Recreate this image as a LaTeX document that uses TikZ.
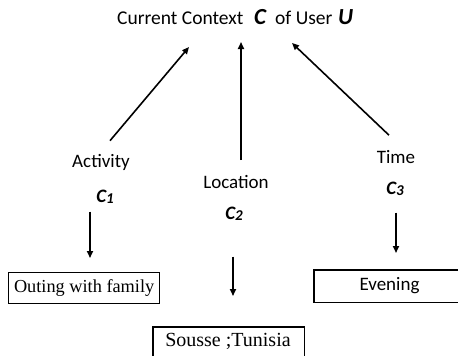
\documentclass[tikz,border=0pt]{standalone}
\usepackage{fontspec}
\setmainfont{Carlito}
\newfontfamily\timesfont{Liberation Serif}
\usetikzlibrary{arrows.meta}
\tikzset{
  lbl/.style={inner sep=0pt, font=\fontsize{19}{22}\selectfont},
  ttl/.style={inner sep=0pt, anchor=base west, font=\fontsize{19.5}{22}\selectfont},
  tvar/.style={inner sep=0pt, anchor=base west, font=\fontsize{23}{25}\selectfont\bfseries\itshape},
  cvar/.style={inner sep=0pt, font=\fontsize{19}{22}\selectfont\bfseries\itshape},
  valbox/.style={inner sep=0pt, anchor=north west},
  boxline/.style={line width=1.3pt},
  arr/.style={line width=1.6pt, -{Triangle[length=7pt,width=6pt]}},
}
\newcommand{\cv}[1]{C\raisebox{-0.5pt}{\fontsize{15}{17}\selectfont #1}}
\begin{document}
\begin{tikzpicture}[x=1pt,y=-1pt]
\useasboundingbox (0,0) rectangle (458,356);
\clip (0,0) rectangle (458,356);
% title
\node[ttl] (title) at (117,24) {Current Context};
\node[tvar] (tc) at (254,24) {C};
\node[ttl] (tof) at (275,24) {of User};
\node[tvar] (tu) at (338,24) {U};
% labels
\node[lbl] (act) at (101,162) {Activity};
\node[cvar] (c1) at (105,197) {\cv{1}};
\node[lbl] (loc) at (236,182) {Location};
\node[cvar] (c2) at (234,214) {\cv{2}};
\node[lbl] (time) at (396,157) {Time};
\node[cvar] (c3) at (395,189) {\cv{3}};
% value boxes
\node[valbox, draw, line width=1.3pt, minimum width=151pt, minimum height=31pt] (b1) at (8,272) {};
\node[font=\timesfont\fontsize{18.3}{20}\selectfont, inner sep=0pt] at (b1.center) {Outing with family};
\node[valbox, minimum width=151pt, minimum height=40pt] (b2) at (153,327) {};
\draw[boxline] (b2.south west) -- (b2.north west) -- (b2.north east) -- (b2.south east);
\node[font=\timesfont\fontsize{20}{22}\selectfont, inner sep=0pt] at (228,341) {Sousse ;Tunisia};
\node[valbox, minimum width=160pt, minimum height=32pt] (b3) at (314,270) {};
\draw[boxline] (b3.north east) -- (b3.north west) -- (b3.south west) -- (b3.south east);
\node[lbl] at (389.5,286) {Evening};
% up arrows
\coordinate (t1) at (189,47);
\coordinate (t2) at (241,42);
\coordinate (t3) at (292,43);
\draw[arr] ([xshift=9pt,yshift=13pt]act.north) -- (t1);
\draw[arr] ([xshift=5pt,yshift=15pt]loc.north) -- (t2);
\draw[arr] ([xshift=-7pt,yshift=15pt]time.north) -- (t3);
% down arrows
\coordinate (d1) at (90,258);
\coordinate (d2) at (233,296);
\coordinate (d3) at (396,253);
\draw[arr] ([xshift=-15pt,yshift=-8pt]c1.south) -- (d1);
\draw[arr] ([xshift=-1pt,yshift=-36pt]c2.south) -- (d2);
\draw[arr] ([xshift=1pt,yshift=-17pt]c3.south) -- (d3);
\end{tikzpicture}
\end{document}
